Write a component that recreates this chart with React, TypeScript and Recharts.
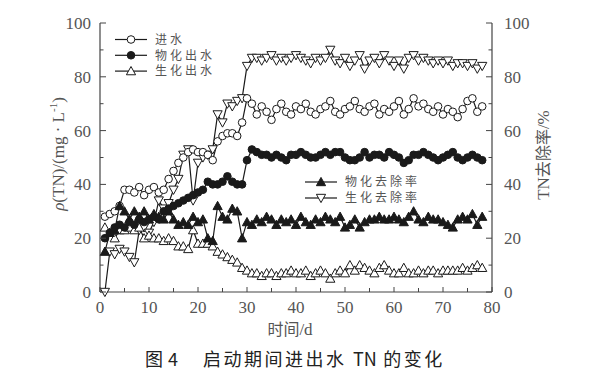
import React from 'react';
import { ComposedChart, Line, XAxis, YAxis } from 'recharts';

const days = [1,2,3,4,5,6,7,8,9,10,11,12,13,14,15,16,17,18,19,20,21,22,23,24,25,26,27,28,29,30,31,32,33,34,35,36,37,38,39,40,41,42,43,44,45,46,47,48,49,50,51,52,53,54,55,56,57,58,59,60,61,62,63,64,65,66,67,68,69,70,71,72,73,74,75,76,77,78];

// 进水 (mg/L)
const inflow = [28,29,30,32,38,38,37,39,36,38,39,37,38,42,45,48,50,52,53,52,52,51,49,56,58,59,59,58,63,72,70,66,69,67,64,68,70,67,66,69,68,70,67,66,68,69,71,67,66,68,69,71,68,67,69,70,66,68,67,69,71,66,68,72,69,70,68,67,69,66,68,67,65,68,71,72,67,69];
// 物化出水 (mg/L)
const physOut = [20,22,24,25,24,26,25,27,26,27,28,27,30,31,32,33,34,35,36,37,38,41,40,40,41,43,41,40,40,49,53,52,51,51,50,51,50,49,51,51,52,51,50,50,51,52,51,52,52,50,49,49,50,52,50,51,51,50,52,51,50,48,49,51,51,52,51,50,49,50,51,52,50,49,50,51,50,49];
// 生化出水 (mg/L)
const bioOut = [24,22,20,23,23,24,23,24,20,21,20,20,19,20,19,17,17,16,23,18,18,18,17,15,14,13,12,11,9,8,7,7,6,7,7,6,7,7,8,7,7,8,6,7,8,7,5,7,8,7,10,8,10,9,8,7,9,10,8,7,7,9,7,7,8,7,8,8,7,8,8,8,8,9,8,9,10,9];
// 物化去除率 (%)
const physRate = [15,22,23,32,30,27,30,28,30,27,29,28,27,30,27,25,26,25,28,26,27,20,19,32,28,27,31,30,20,26,25,27,26,28,27,25,27,26,27,25,28,26,25,27,26,28,27,26,28,24,25,27,24,26,27,27,28,27,27,28,27,26,28,30,27,26,28,27,27,26,25,24,27,28,27,29,25,28];
// 生化去除率 (%)
const bioRate = [0,15,14,16,15,13,11,23,24,22,26,34,31,33,38,42,51,53,34,48,50,51,53,66,63,70,69,71,72,84,87,87,86,87,88,86,87,86,87,88,87,86,85,87,86,87,90,86,85,87,84,86,88,83,86,87,85,88,86,84,86,83,87,88,86,87,86,85,86,85,86,84,85,85,84,85,83,84];

const xTicks = [0,5,10,15,20,25,30,35,40,45,50,55,60,65,70,75,80];
const yTicks = [0,10,20,30,40,50,60,70,80,90,100];

const data = days.map((d, i) => ({
  day: d,
  inflow: inflow[i],
  physOut: physOut[i],
  bioOut: bioOut[i],
  physRate: physRate[i],
  bioRate: bioRate[i],
}));

const INK = '#1a1a1a';
const AXIS = '#444';
const NUMFONT = '"Liberation Serif", "Times New Roman", serif';
const CJK = '"Noto Sans CJK SC", "Noto Sans", sans-serif';

const circle = (cx: number, cy: number, filled: boolean, key?: any) => (
  <circle key={key} cx={cx} cy={cy} r={3.8} fill={filled ? INK : '#fff'} stroke={INK} strokeWidth={1} />
);
const triUp = (cx: number, cy: number, filled: boolean, key?: any) => {
  const s = 4.6;
  return (
    <path key={key} d={`M${cx},${cy - s} L${cx + s},${cy + s * 0.8} L${cx - s},${cy + s * 0.8} Z`} fill={filled ? INK : '#fff'} stroke={INK} strokeWidth={1} />
  );
};
const triDown = (cx: number, cy: number, filled: boolean, key?: any) => {
  const s = 4.6;
  return (
    <path key={key} d={`M${cx},${cy + s} L${cx + s},${cy - s * 0.8} L${cx - s},${cy - s * 0.8} Z`} fill={filled ? INK : '#fff'} stroke={INK} strokeWidth={1} />
  );
};

const LeftTick = (props: any) => {
  const { x, y, payload } = props;
  const major = payload.value % 20 === 0;
  return (
    <g>
      <line x1={x} x2={x + (major ? 6 : 3.5)} y1={y} y2={y} stroke={AXIS} strokeWidth={1} />
      {major && (
        <text x={x - 9} y={y} dy="0.35em" textAnchor="end" fontFamily={NUMFONT} fontSize={17} fill="#555">{payload.value}</text>
      )}
    </g>
  );
};
const RightTick = (props: any) => {
  const { x, y, payload } = props;
  const major = payload.value % 20 === 0;
  return (
    <g>
      <line x1={x} x2={x - (major ? 6 : 3.5)} y1={y} y2={y} stroke={AXIS} strokeWidth={1} />
      {major && (
        <text x={x + 12} y={y} dy="0.35em" textAnchor="start" fontFamily={NUMFONT} fontSize={17} fill="#555">{payload.value}</text>
      )}
    </g>
  );
};
const BottomTick = (props: any) => {
  const { x, y, payload } = props;
  const major = payload.value % 10 === 0;
  return (
    <g>
      <line x1={x} x2={x} y1={y} y2={y - (major ? 5 : 4)} stroke={AXIS} strokeWidth={1} />
      {major && (
        <text x={x} y={y + 15} dy="0.35em" textAnchor="middle" fontFamily={NUMFONT} fontSize={17} fill="#555">{payload.value}</text>
      )}
    </g>
  );
};

const legend1 = [
  { name: '进水', mk: (x: number, y: number) => circle(x, y, false) },
  { name: '物化出水', mk: (x: number, y: number) => circle(x, y, true) },
  { name: '生化出水', mk: (x: number, y: number) => triUp(x, y, false) },
];
const legend2 = [
  { name: '物化去除率', mk: (x: number, y: number) => triUp(x, y, true) },
  { name: '生化去除率', mk: (x: number, y: number) => triDown(x, y, false) },
];

export default function App() {
  return (
    <div style={{ position: 'absolute', left: 0, top: 0, width: 610, height: 376, background: '#fff' }}>
      <ComposedChart width={610} height={376} data={data} margin={{ top: 23, right: 0, bottom: 0, left: 0 }}>
        <XAxis xAxisId="b" dataKey="day" type="number" domain={[0, 80]} ticks={xTicks} height={84}
          tickSize={0} tickMargin={0} tick={<BottomTick />} axisLine={{ stroke: AXIS, strokeWidth: 1.2 }} interval={0} />
        <XAxis xAxisId="t" orientation="top" dataKey="day" type="number" domain={[0, 80]} height={0}
          tick={false} tickLine={false} axisLine={{ stroke: AXIS, strokeWidth: 1.2 }} />
        <YAxis yAxisId="l" orientation="left" domain={[0, 100]} ticks={yTicks} width={100}
          tickSize={0} tickMargin={0} tick={<LeftTick />} axisLine={{ stroke: AXIS, strokeWidth: 1.2 }} interval={0} />
        <YAxis yAxisId="r" orientation="right" domain={[0, 100]} ticks={yTicks} width={118}
          tickSize={0} tickMargin={0} tick={<RightTick />} axisLine={{ stroke: AXIS, strokeWidth: 1.2 }} interval={0} />
        <Line xAxisId="b" yAxisId="r" dataKey="bioRate" stroke={INK} strokeWidth={1.2} isAnimationActive={false}
          dot={(p: any) => triDown(p.cx, p.cy, false, `br${p.index}`)} />
        <Line xAxisId="b" yAxisId="l" dataKey="inflow" stroke={INK} strokeWidth={1.2} isAnimationActive={false}
          dot={(p: any) => circle(p.cx, p.cy, false, `in${p.index}`)} />
        <Line xAxisId="b" yAxisId="l" dataKey="bioOut" stroke={INK} strokeWidth={1.2} isAnimationActive={false}
          dot={(p: any) => triUp(p.cx, p.cy, false, `bo${p.index}`)} />
        <Line xAxisId="b" yAxisId="r" dataKey="physRate" stroke={INK} strokeWidth={1.2} isAnimationActive={false}
          dot={(p: any) => triUp(p.cx, p.cy, true, `pr${p.index}`)} />
        <Line xAxisId="b" yAxisId="l" dataKey="physOut" stroke={INK} strokeWidth={1.2} isAnimationActive={false}
          dot={(p: any) => circle(p.cx, p.cy, true, `po${p.index}`)} />
      </ComposedChart>
      <svg width={610} height={376} style={{ position: 'absolute', left: 0, top: 0, pointerEvents: 'none' }}>
        {legend1.map((it, i) => {
          const y = 39.5 + i * 15.8;
          return (
            <g key={it.name}>
              <line x1={115} x2={147} y1={y} y2={y} stroke={INK} strokeWidth={1.2} />
              {it.mk(131, y)}
              <text x={155} y={y} dy="0.35em" fontFamily={CJK} fontSize={12} letterSpacing={3} fill="#555">{it.name}</text>
            </g>
          );
        })}
        {legend2.map((it, i) => {
          const y = 182 + i * 16;
          return (
            <g key={it.name}>
              <line x1={305} x2={337} y1={y} y2={y} stroke={INK} strokeWidth={1.2} />
              {it.mk(321, y)}
              <text x={345} y={y} dy="0.35em" fontFamily={CJK} fontSize={12} letterSpacing={3} fill="#555">{it.name}</text>
            </g>
          );
        })}
        <text transform="rotate(-90, 58, 154)" x={58} y={154} dy="0.35em" textAnchor="middle" fontFamily={NUMFONT} fontSize={17} fill="#555">
          <tspan fontStyle="italic">ρ</tspan>(TN)/(mg · L<tspan dy="-7" fontSize={11}>-1</tspan><tspan dy="7">)</tspan>
        </text>
        <text transform="rotate(-90, 543, 155)" x={543} y={155} dy="0.35em" textAnchor="middle" fontSize={17} fill="#555">
          <tspan fontFamily={NUMFONT}>TN</tspan><tspan fontFamily={CJK} fontSize={16}>去除率</tspan><tspan fontFamily={NUMFONT}>/%</tspan>
        </text>
        <text x={290} y={329} dy="0.35em" textAnchor="middle" fontSize={17} fill="#555">
          <tspan fontFamily={CJK} fontSize={16}>时间</tspan><tspan fontFamily={NUMFONT}>/d</tspan>
        </text>
        <text x={145} y={360} dy="0.35em" textAnchor="start" fontFamily={CJK} fontSize={18} fill="#222">图</text>
        <text x={168} y={360} dy="0.35em" textAnchor="start" fontFamily={CJK} fontSize={18} fill="#222">4</text>
        <text x={203} y={360} dy="0.35em" textAnchor="start" fontFamily={CJK} fontSize={18} fill="#222">
          <tspan letterSpacing={2.5}>启动期间进出水 </tspan><tspan letterSpacing={0}>TN</tspan><tspan letterSpacing={2.5}> 的变化</tspan>
        </text>
      </svg>
    </div>
  );
}
